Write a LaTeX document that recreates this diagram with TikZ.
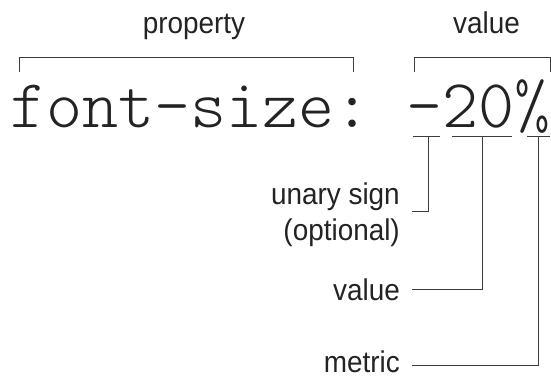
\documentclass[tikz,border=0pt]{standalone}
\usepackage{fontspec}
\setsansfont{Liberation Sans}[FakeStretch=0.93]
\newfontfamily\codefont{lmmonolt10-regular.otf}
\usepackage{tikz}
\usetikzlibrary{calc}
\definecolor{inkgrey}{RGB}{35,35,35}
\definecolor{rulegrey}{RGB}{60,60,60}
\tikzset{
  tagtext/.style={font=\sffamily\fontsize{30}{36}\selectfont, text=inkgrey, inner sep=0pt},
  codetext/.style={font=\codefont\fontsize{68.6}{72}\selectfont, text=inkgrey, inner sep=0pt, anchor=base west},
  rule/.style={rulegrey, line width=1pt},
}

\begin{document}
\begin{tikzpicture}[x=1pt, y=-1pt]
    \useasboundingbox (0,0) rectangle (551,378);

    % Headings
    \node[tagtext, anchor=base] (prophead) at (194,33) {property};
    \node[tagtext, anchor=base] (valhead) at (486.5,33) {value};

    % Brackets under the headings
    \draw[rule] (19,72) -- (19,57) -- (353,57) -- (353,72);
    \draw[rule] (414,72) -- (414,57) -- (550,57) -- (550,72);

    % Declaration (monospace)
    \node[codetext] (code) at (10,127) {font-size:};
    \node[codetext] (sign) at (406.2,127) {-};
    \node[codetext] (num) at (442.2,127) {20};
    \node[codetext] (pct) at (514.2,127) {\%};

    % Underlines below the parts of the value
    \foreach \a/\b in {413/440, 452/512, 527/550}{
      \draw[rule] (\a,136) -- (\b,136);
    }
    \coordinate (signtick) at (428,136);
    \coordinate (numtick) at (482,136);
    \coordinate (pcttick) at (538,136);

    % Part labels
    \node[tagtext, anchor=north east, align=right] (unary) at (400,183)
      {unary sign\\(optional)};
    \node[tagtext, anchor=base east] (numlabel) at (400,300) {value};
    \node[tagtext, anchor=base east] (metric) at (400,372) {metric};

    % Leaders from parts to labels
    \draw[rule] (signtick) |- ([xshift=12pt,yshift=4pt]unary.east);
    \draw[rule] (numtick) |- ([xshift=12pt]numlabel.east);
    \draw[rule] (pcttick) |- ([xshift=12pt,yshift=-4pt]metric.east);

\end{tikzpicture}
\end{document}
